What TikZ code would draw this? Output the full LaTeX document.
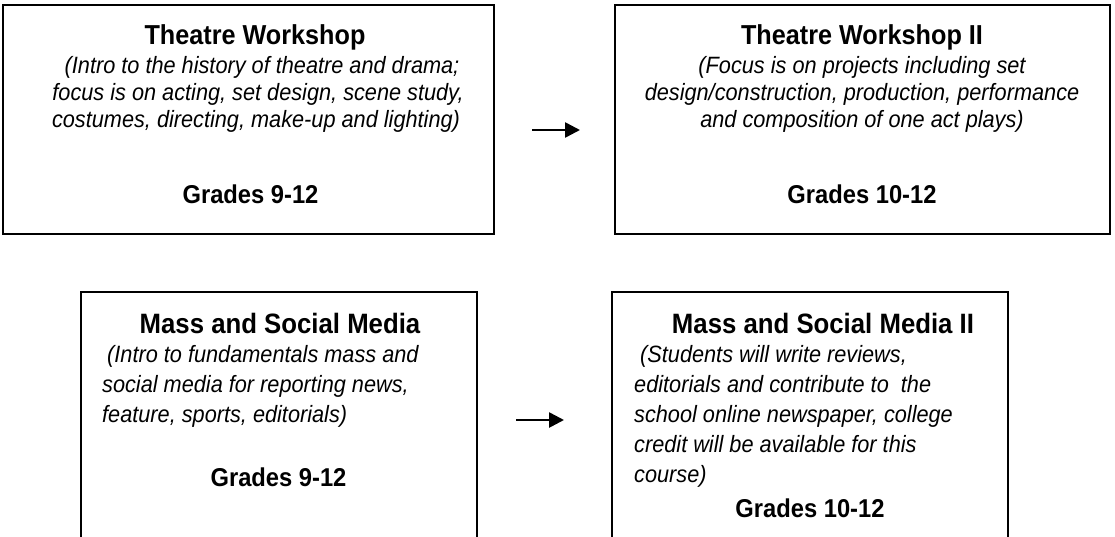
\documentclass[tikz,border=0pt]{standalone}
\usepackage{fontspec}
\setmainfont{Liberation Sans}[FakeStretch=0.92]
\usetikzlibrary{arrows.meta}
\begin{document}
\begin{tikzpicture}[x=1pt,y=-1pt,
  box/.style={draw, line width=2pt, rectangle, inner sep=0pt},
  ttl/.style={font=\bfseries\fontsize{27.4}{30}\selectfont, anchor=base, inner sep=0pt},
  ttlb/.style={font=\bfseries\fontsize{28}{30}\selectfont, anchor=base, inner sep=0pt},
  grd/.style={font=\bfseries\fontsize{25.8}{30}\selectfont, anchor=base, inner sep=0pt},
  desc/.style={font=\itshape\fontsize{23.6}{28}\selectfont, anchor=base, inner sep=0pt},
  descl/.style={font=\itshape\fontsize{23.6}{28}\selectfont, anchor=base west, inner sep=0pt},
  arr/.style={line width=2.6pt, -{Triangle[length=15pt,width=15pt]}}]
\useasboundingbox (0,0) rectangle (1115,536);
\clip (0,0) rectangle (1115,536);
% boxes
\node[box, minimum width=491pt, minimum height=229pt] (b1) at (248.5,119.5) {};
\node[box, minimum width=495pt, minimum height=229pt] (b2) at (862.5,119.5) {};
\node[box, minimum width=396pt, minimum height=253pt] (b3) at (279,418.5) {};
\node[box, minimum width=396pt, minimum height=253pt] (b4) at (810,418.5) {};
% box 1
\node[ttl] (t1) at (255,44.5) {Theatre Workshop};
\node[desc] (d1a) at (262,73.5) {(Intro to the history of theatre and drama;};
\node[desc] (d1b) at (258,100.5) {focus is on acting, set design, scene study,};
\node[desc] (d1c) at (256,127.5) {costumes, directing, make-up and lighting)};
\node[grd] (g1) at (250.5,203) {Grades 9-12};
% box 2
\node[ttl] (t2) at (862,44.5) {Theatre Workshop II};
\node[desc] (d2a) at (862,73.5) {(Focus is on projects including set};
\node[desc] (d2b) at (862,100.5) {design/construction, production, performance};
\node[desc] (d2c) at (862,127.5) {and composition of one act plays)};
\node[grd] (g2) at (862,203) {Grades 10-12};
% box 3
\node[ttlb] (t3) at (280,333) {Mass and Social Media};
\node[descl] (d3a) at (107,362) {(Intro to fundamentals mass and};
\node[descl] (d3b) at (102,392) {social media for reporting news,};
\node[descl] (d3c) at (102,422) {feature, sports, editorials)};
\node[grd] (g3) at (278.5,486) {Grades 9-12};
% box 4
\node[ttlb] (t4) at (823,333) {Mass and Social Media II};
\node[descl] (d4a) at (640,362) {(Students will write reviews,};
\node[descl] (d4b) at (634,392) {editorials and contribute to\ \ the};
\node[descl] (d4c) at (634,422) {school online newspaper, college};
\node[descl] (d4d) at (634,452) {credit will be available for this};
\node[descl] (d4e) at (634,482) {course)};
\node[grd] (g4) at (810,517) {Grades 10-12};
% arrows
\coordinate (a1s) at (532,130);
\coordinate (a1e) at (580,130);
\coordinate (a2s) at (516,420);
\coordinate (a2e) at (564,420);
\draw[arr] (a1s) -- (a1e);
\draw[arr] (a2s) -- (a2e);
\end{tikzpicture}
\end{document}
